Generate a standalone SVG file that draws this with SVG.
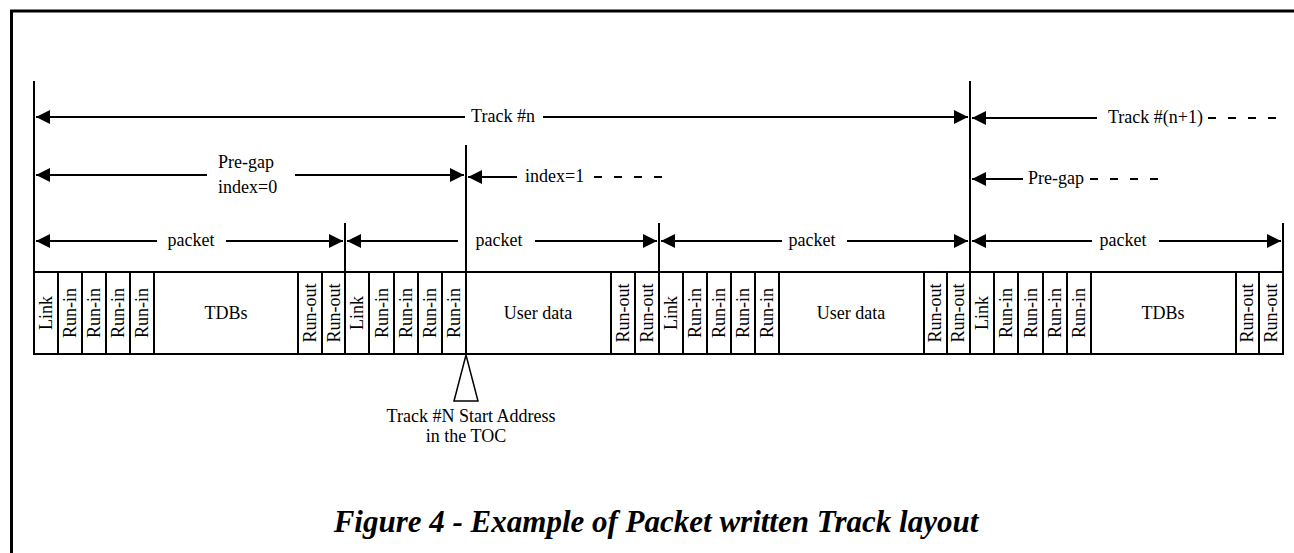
<svg xmlns="http://www.w3.org/2000/svg" width="1294" height="553" viewBox="0 0 1294 553">
<style>
text{font-family:"Liberation Serif","Times New Roman",serif;font-size:18px;fill:#000}
.ln{stroke:#000;stroke-width:2;fill:none}
.dash{stroke:#000;stroke-width:2;fill:none;stroke-dasharray:8 12}
.cell{stroke:#000;stroke-width:2;fill:#fff}
.frame{stroke:#000;stroke-width:3;fill:none}
.mid{text-anchor:middle}
.title{font-size:31px;font-weight:bold;font-style:italic}
</style>
<defs>
<marker id="ah" viewBox="0 0 14 14" refX="14" refY="7" markerWidth="14" markerHeight="14" orient="auto-start-reverse" markerUnits="userSpaceOnUse"><path d="M0,0 L14,7 L0,14 z" fill="#000"/></marker>
</defs>
<rect width="1294" height="553" fill="#fff"/>
<path class="frame" d="M11.5,553 V11 H1294"/>

<g id="packet1">
<rect class="cell" x="34" y="272" width="311" height="82"/>
<path class="ln" d="M58,272V354M82,272V354M106,272V354M130,272V354M154,272V354M298,272V354M322,272V354"/>
<text class="mid" transform="translate(52,313) rotate(-90)">Link</text>
<text class="mid" transform="translate(76,313) rotate(-90)">Run-in</text>
<text class="mid" transform="translate(100,313) rotate(-90)">Run-in</text>
<text class="mid" transform="translate(124,313) rotate(-90)">Run-in</text>
<text class="mid" transform="translate(148,313) rotate(-90)">Run-in</text>
<text class="mid" x="226" y="319">TDBs</text>
<text class="mid" transform="translate(316,313) rotate(-90)">Run-out</text>
<text class="mid" transform="translate(340,313) rotate(-90)">Run-out</text>
</g>

<g id="packet2">
<rect class="cell" x="345" y="272" width="314" height="82"/>
<path class="ln" d="M369,272V354M394,272V354M418,272V354M442,272V354M466,272V354M611,272V354M635,272V354"/>
<text class="mid" transform="translate(363,313) rotate(-90)">Link</text>
<text class="mid" transform="translate(388,313) rotate(-90)">Run-in</text>
<text class="mid" transform="translate(412,313) rotate(-90)">Run-in</text>
<text class="mid" transform="translate(436,313) rotate(-90)">Run-in</text>
<text class="mid" transform="translate(460,313) rotate(-90)">Run-in</text>
<text class="mid" x="538" y="319">User data</text>
<text class="mid" transform="translate(629,313) rotate(-90)">Run-out</text>
<text class="mid" transform="translate(653,313) rotate(-90)">Run-out</text>
</g>

<g id="packet3">
<rect class="cell" x="659" y="272" width="311" height="82"/>
<path class="ln" d="M683,272V354M707,272V354M731,272V354M755,272V354M779,272V354M924,272V354M947,272V354"/>
<text class="mid" transform="translate(677,313) rotate(-90)">Link</text>
<text class="mid" transform="translate(701,313) rotate(-90)">Run-in</text>
<text class="mid" transform="translate(725,313) rotate(-90)">Run-in</text>
<text class="mid" transform="translate(749,313) rotate(-90)">Run-in</text>
<text class="mid" transform="translate(773,313) rotate(-90)">Run-in</text>
<text class="mid" x="851" y="319">User data</text>
<text class="mid" transform="translate(941,313) rotate(-90)">Run-out</text>
<text class="mid" transform="translate(964,313) rotate(-90)">Run-out</text>
</g>

<g id="packet4">
<rect class="cell" x="970" y="272" width="313" height="82"/>
<path class="ln" d="M994,272V354M1018,272V354M1043,272V354M1067,272V354M1091,272V354M1236,272V354M1259,272V354"/>
<text class="mid" transform="translate(988,313) rotate(-90)">Link</text>
<text class="mid" transform="translate(1012,313) rotate(-90)">Run-in</text>
<text class="mid" transform="translate(1037,313) rotate(-90)">Run-in</text>
<text class="mid" transform="translate(1061,313) rotate(-90)">Run-in</text>
<text class="mid" transform="translate(1085,313) rotate(-90)">Run-in</text>
<text class="mid" x="1163" y="319">TDBs</text>
<text class="mid" transform="translate(1253,313) rotate(-90)">Run-out</text>
<text class="mid" transform="translate(1277,313) rotate(-90)">Run-out</text>
</g>

<g id="boundaries">
<path class="ln" d="M34,81V354M970,81V354M466,145V354M345,223V272M659,223V272M1283,223V272"/>
</g>

<g id="start-address">
<path d="M466,355 L478,401 L454,401 Z" fill="none" stroke="#000" stroke-width="1.5"/>
<text class="mid" x="471" y="422">Track #N Start Address</text>
<text class="mid" x="466" y="442">in the TOC</text>
</g>

<g id="connectors">
<line class="ln" x1="36" y1="117" x2="465" y2="117" marker-start="url(#ah)"/>
<line class="ln" x1="543" y1="117" x2="968" y2="117" marker-end="url(#ah)"/>
<text class="mid" x="503" y="122">Track #n</text>

<line class="ln" x1="972" y1="118" x2="1097" y2="118" marker-start="url(#ah)"/>
<text x="1108" y="123">Track #(n+1)</text>
<line class="dash" x1="1208" y1="118" x2="1278" y2="118"/>

<line class="ln" x1="36" y1="175" x2="207" y2="175" marker-start="url(#ah)"/>
<line class="ln" x1="295" y1="175" x2="464" y2="175" marker-end="url(#ah)"/>
<text x="218" y="168">Pre-gap</text>
<text x="218" y="193">index=0</text>

<line class="ln" x1="468" y1="177" x2="517" y2="177" marker-start="url(#ah)"/>
<text x="525" y="182">index=1</text>
<line class="dash" x1="594" y1="177" x2="662" y2="177"/>

<line class="ln" x1="972" y1="179" x2="1023" y2="179" marker-start="url(#ah)"/>
<text x="1028" y="184">Pre-gap</text>
<line class="dash" x1="1090" y1="179" x2="1160" y2="179"/>

<line class="ln" x1="36" y1="241" x2="157" y2="241" marker-start="url(#ah)"/>
<line class="ln" x1="226" y1="241" x2="343" y2="241" marker-end="url(#ah)"/>
<text class="mid" x="191" y="246">packet</text>

<line class="ln" x1="347" y1="241" x2="458" y2="241" marker-start="url(#ah)"/>
<line class="ln" x1="535" y1="241" x2="657" y2="241" marker-end="url(#ah)"/>
<text class="mid" x="499" y="246">packet</text>

<line class="ln" x1="661" y1="241" x2="782" y2="241" marker-start="url(#ah)"/>
<line class="ln" x1="847" y1="241" x2="968" y2="241" marker-end="url(#ah)"/>
<text class="mid" x="812" y="246">packet</text>

<line class="ln" x1="972" y1="241" x2="1092" y2="241" marker-start="url(#ah)"/>
<line class="ln" x1="1159" y1="241" x2="1281" y2="241" marker-end="url(#ah)"/>
<text class="mid" x="1123" y="246">packet</text>
</g>

<text class="mid title" x="656" y="532">Figure 4 - Example of Packet written Track layout</text>
</svg>
